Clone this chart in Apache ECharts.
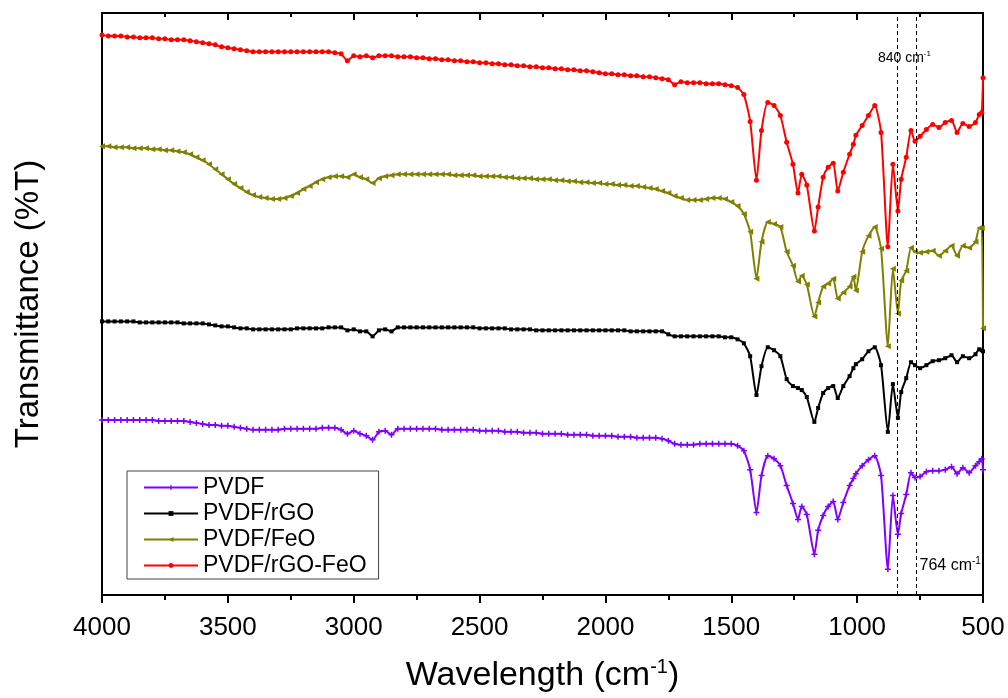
<!DOCTYPE html>
<html>
<head>
<meta charset="utf-8">
<script src="https://cdn.jsdelivr.net/npm/echarts@6/dist/echarts.min.js"></script>
<style>
  html, body { margin: 0; padding: 0; background: #fff; }
  #chart { width: 1008px; height: 698px; }
</style>
</head>
<body>
<div id="chart"></div>
<script>
// FTIR spectra, stacked (offset transmittance, arbitrary units)
const wavenumbers = [
  4000,3975,3950,3925,3900,3875,3850,3825,3800,3775,
  3750,3725,3700,3675,3650,3625,3600,3575,3550,3525,
  3500,3475,3450,3425,3400,3375,3350,3325,3300,3275,
  3250,3225,3200,3175,3150,3125,3100,3075,3050,3025,
  3000,2975,2950,2925,2900,2875,2850,2825,2800,2775,
  2750,2725,2700,2675,2650,2625,2600,2575,2550,2525,
  2500,2475,2450,2425,2400,2375,2350,2325,2300,2275,
  2250,2225,2200,2175,2150,2125,2100,2075,2050,2025,
  2000,1975,1950,1925,1900,1875,1850,1825,1800,1775,
  1750,1725,1700,1675,1650,1625,1600,1575,1550,1525,
  1500,1475,1450,1425,1400,1380,1355,1330,1305,1280,
  1255,1235,1220,1200,1170,1155,1135,1115,1095,1077,
  1055,1030,1015,1005,980,955,930,905,878,858,
  838,825,805,786,770,750,725,700,675,650,
  625,603,580,555,530,515,505,500
];

const pvdf = [
  176,176,176,176,176,176,176,176,176,175,
  175,175,175,175,174,173,172,171,171,170,
  170,169,168,167,166,166,166,166,166,167,
  167,167,167,167,167,168,168,168,166,162,
  165,162,160,156,164,165,161,167,167,167,
  167,167,167,167,166,166,166,166,166,166,
  165,165,165,165,164,164,164,163,163,163,
  162,162,162,162,161,161,161,161,160,160,
  160,160,159,159,159,158,158,158,158,157,
  155,152,151,151,151,152,152,152,152,152,
  152,150,145,126,83,120,140,137,130,110,
  92,76,89,81,41,65,80,89,94,76,
  93,110,117,122,130,136,140,120,26,100,
  61,82,101,123,118,119,124,125,125,126,
  129,122,128,123,130,134,137,126
];

const pvdfRgo = [
  275,275,275,275,275,275,274,274,274,274,
  274,274,274,273,273,273,273,272,271,270,
  270,269,268,268,267,267,267,267,267,267,
  267,268,268,268,268,268,269,269,269,266,
  267,265,265,260,266,267,265,269,269,269,
  269,269,269,269,269,269,269,269,269,269,
  268,268,268,268,268,267,267,267,267,266,
  266,266,266,266,266,266,266,266,266,266,
  266,266,266,266,265,265,265,265,265,265,
  262,260,260,260,260,260,260,260,260,259,
  259,257,253,240,201,230,249,246,240,217,
  210,208,206,199,174,188,203,208,210,198,
  210,220,228,232,237,245,249,231,164,212,
  178,204,218,234,231,228,231,235,236,238,
  241,234,240,238,242,247,246,245
];

const pvdfFeo = [
  451,451,450,450,450,449,449,449,448,448,
  447,447,446,445,443,440,437,433,428,423,
  418,413,409,405,402,400,399,398,398,399,
  401,404,408,411,415,418,420,421,421,420,
  423,420,418,414,419,421,422,423,423,423,
  423,423,423,423,423,423,422,422,422,422,
  421,421,421,421,420,420,419,419,419,418,
  418,418,417,417,416,416,415,415,414,414,
  413,413,412,412,411,411,410,409,408,406,
  404,401,399,397,397,397,398,399,399,398,
  395,391,383,365,318,355,375,373,370,345,
  331,315,321,312,280,294,310,313,318,298,
  304,310,320,306,345,361,370,348,250,328,
  283,316,326,349,345,344,345,346,341,346,
  351,341,351,349,355,369,369,268
];

const pvdfRgoFeo = [
  563,562,562,562,561,561,560,560,560,559,
  559,558,558,558,557,556,555,554,553,551,
  550,549,548,547,546,546,546,546,546,546,
  546,546,546,546,546,546,546,545,544,537,
  542,541,542,540,542,542,542,541,541,541,
  540,540,539,539,538,538,537,537,536,536,
  535,535,534,534,533,533,532,532,531,531,
  530,530,529,529,528,528,527,527,526,525,
  524,524,523,523,522,522,521,521,520,519,
  518,513,516,515,515,515,514,514,514,513,
  512,510,503,476,417,467,495,492,482,455,
  433,404,423,412,366,390,420,430,434,406,
  425,443,453,462,472,482,492,465,350,433,
  386,418,440,467,456,461,468,473,470,475,
  477,465,474,471,475,483,485,520
];

const seriesNames = ['PVDF', 'PVDF/rGO', 'PVDF/FeO', 'PVDF/rGO-FeO'];
const xTicks = { min: 500, max: 4000, step: 500 };
const markedBands = [840, 764];

const FONT = '"Liberation Sans", Arial, sans-serif';
const plusPath = 'path://M3,0H5V3H8V5H5V8H3V5H0V3H3Z';

const pairs = vals => wavenumbers.map((w, i) => [w, vals[i]]);

const chart = echarts.init(document.getElementById('chart'), null, { renderer: 'canvas' });

const baseX = {
  type: 'value',
  min: xTicks.min,
  max: xTicks.max,
  interval: xTicks.step,
  inverse: true,
  splitLine: { show: false },
  minorSplitLine: { show: false },
  axisLine: { show: true, onZero: false, lineStyle: { color: '#000', width: 2 } }
};

const lineSeries = (name, vals, color, symbol, size, extra) => Object.assign({
  name: name,
  type: 'line',
  data: pairs(vals),
  symbol: symbol,
  symbolSize: size,
  showSymbol: true,
  smooth: 0.2,
  lineStyle: { color: color, width: 2 },
  itemStyle: { color: color },
  emphasis: { disabled: true },
  z: 3
}, extra || {});

chart.setOption({
  animation: false,
  backgroundColor: '#fff',
  grid: { left: 102, right: 25, top: 13, bottom: 100 },
  legend: {
    data: seriesNames,
    orient: 'vertical',
    left: 127,
    top: 471,
    padding: [5, 12, 2, 16],
    itemWidth: 54,
    itemHeight: 6,
    itemGap: 3,
    borderColor: '#444',
    borderWidth: 1,
    textStyle: { fontFamily: FONT, fontSize: 23, color: '#000', lineHeight: 23 }
  },
  xAxis: [
    Object.assign({}, baseX, {
      position: 'bottom',
      axisTick: { show: true, inside: false, length: 8, lineStyle: { color: '#000', width: 2 } },
      minorTick: { show: true, splitNumber: 2, length: 5, lineStyle: { color: '#000', width: 2 } },
      axisLabel: {
        show: true, color: '#000', fontFamily: FONT, fontSize: 26, margin: 20,
        formatter: v => String(v)
      },
      name: '{n|Wavelength (cm}{s|-1}{n|)}',
      nameLocation: 'middle',
      nameGap: 62,
      nameTextStyle: {
        rich: {
          n: { fontFamily: FONT, fontSize: 34, color: '#000' },
          s: { fontFamily: FONT, fontSize: 20, color: '#000', padding: [0, 0, 18, 0] }
        }
      }
    }),
    Object.assign({}, baseX, {
      position: 'top',
      axisTick: { show: true, inside: true, length: 7, lineStyle: { color: '#000', width: 2 } },
      minorTick: { show: true, splitNumber: 2, length: 4, lineStyle: { color: '#000', width: 2 } },
      axisLabel: { show: false }
    })
  ],
  yAxis: [
    {
      type: 'value', min: 0, max: 585, position: 'left',
      axisLine: { show: true, onZero: false, lineStyle: { color: '#000', width: 2 } },
      axisTick: { show: false }, axisLabel: { show: false }, splitLine: { show: false },
      name: 'Transmittance (%T)',
      nameLocation: 'middle',
      nameRotate: 90,
      nameGap: 57,
      nameTextStyle: { fontFamily: FONT, fontSize: 33, color: '#000' }
    },
    {
      type: 'value', min: 0, max: 585, position: 'right',
      axisLine: { show: true, onZero: false, lineStyle: { color: '#000', width: 2 } },
      axisTick: { show: false }, axisLabel: { show: false }, splitLine: { show: false }
    }
  ],
  series: [
    lineSeries(seriesNames[0], pvdf, '#8000FF', plusPath, 6, {
      markLine: {
        silent: true,
        symbol: ['none', 'none'],
        label: { show: false },
        lineStyle: { color: '#000', width: 1, type: [4, 3] },
        data: markedBands.map(v => ({ xAxis: v }))
      }
    }),
    lineSeries(seriesNames[1], pvdfRgo, '#000000', 'rect', 4),
    lineSeries(seriesNames[2], pvdfFeo, '#808000', 'triangle', 6, { symbolRotate: 90 }),
    lineSeries(seriesNames[3], pvdfRgoFeo, '#FF0000', 'circle', 5)
  ]
});

// Band annotations anchored to the axes
const bandLabel = (wn, yVal, align, dx, size) => {
  const p = chart.convertToPixel({ xAxisIndex: 0, yAxisIndex: 0 }, [wn, yVal]);
  return {
    type: 'text',
    x: p[0] + dx,
    y: p[1],
    z: 10,
    style: {
      text: '{t|' + wn + ' cm}{s|-1}',
      align: align,
      verticalAlign: 'middle',
      rich: {
        t: { fontFamily: FONT, fontSize: size, fill: '#000' },
        s: { fontFamily: FONT, fontSize: Math.round(size * 0.6), fill: '#000', padding: [0, 0, 8, 0] }
      }
    }
  };
};

chart.setOption({
  graphic: [
    bandLabel(markedBands[0], 540, 'center', 7, 14),
    bandLabel(markedBands[1], 30, 'left', 3, 16)
  ]
});
</script>
</body>
</html>
